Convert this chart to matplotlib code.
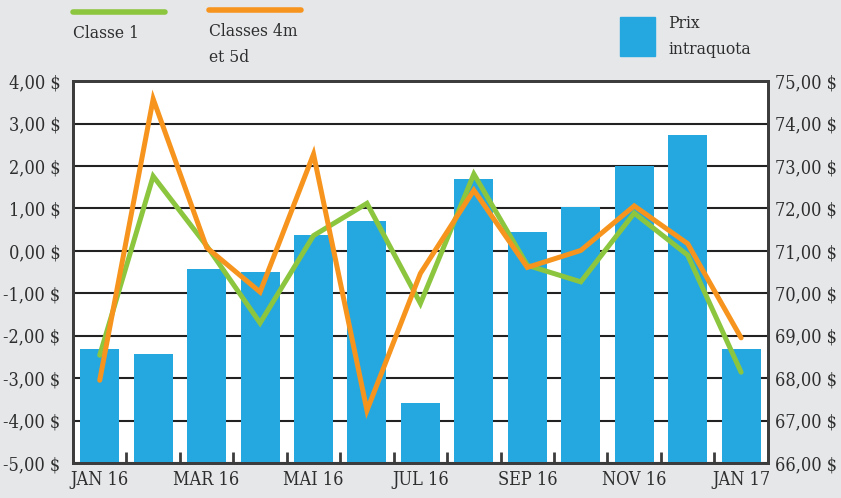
import matplotlib
matplotlib.use("Agg")
import matplotlib.pyplot as plt
from matplotlib.lines import Line2D
from matplotlib.patches import Rectangle
from matplotlib.ticker import FuncFormatter, FixedLocator

# data
months = ["JAN 16", "FEV 16", "MAR 16", "AVR 16", "MAI 16", "JUN 16", "JUL 16",
          "AOU 16", "SEP 16", "OCT 16", "NOV 16", "DEC 16", "JAN 17"]
prix_intraquota = [68.69, 68.56, 70.57, 70.50, 71.37, 71.70, 67.41,
                   72.69, 71.44, 72.03, 73.00, 73.73, 68.68]
classe_1 = [-2.46, 1.76, 0.12, -1.70, 0.36, 1.12, -1.24,
            1.81, -0.34, -0.73, 0.89, -0.10, -2.86]
classes_4m_5d = [-3.05, 3.58, 0.08, -0.97, 2.28, -3.76, -0.53,
                 1.43, -0.39, 0.01, 1.06, 0.17, -2.05]

BG = "#e6e7e9"
BLUE = "#25a8e0"
GREEN = "#8cc63f"
ORANGE = "#f7941d"
TXT = "#2e2e2e"
SPINE = "#3c3c3c"

plt.rcParams["font.family"] = ["DejaVu Serif"]
plt.rcParams["font.stretch"] = "condensed"

fig = plt.figure(figsize=(8.41, 4.98), dpi=100, facecolor=BG)
ax = fig.add_axes([0.0868, 0.0703, 0.913 - 0.0868, 0.837 - 0.0703])
ax2 = ax.twinx()

x = list(range(len(months)))

# bars on the right-hand scale
ax2.bar(x, [v - 66 for v in prix_intraquota], bottom=66, width=0.73,
        color=BLUE, zorder=2)
ax2.set_ylim(66, 75)
ax2.set_yticks(range(66, 76))
ax2.grid(axis="y", color="#222222", linewidth=1.5, zorder=0)
ax2.set_axisbelow(True)

# lines on the left-hand scale
ax.plot(x, classe_1, color=GREEN, linewidth=3.6, solid_capstyle="round",
        solid_joinstyle="miter", zorder=3)
ax.plot(x, classes_4m_5d, color=ORANGE, linewidth=3.6, solid_capstyle="round",
        solid_joinstyle="miter", zorder=3)
ax.set_ylim(-5, 4)
ax.set_yticks(range(-5, 5))
ax.set_xlim(-0.5, len(months) - 0.5)

# put lines above bars
ax.set_zorder(ax2.get_zorder() + 1)
ax.patch.set_visible(False)
ax2.patch.set_visible(True)
ax2.patch.set_facecolor("white")

fmt = FuncFormatter(lambda v, p: f"{v:.2f}".replace(".", ",") + " $")
ax.yaxis.set_major_formatter(fmt)
ax2.yaxis.set_major_formatter(fmt)

ax.set_xticks(x[::2])
ax.set_xticklabels(months[::2])
ax.xaxis.set_minor_locator(FixedLocator([i + 0.5 for i in x[:-1]]))
ax.tick_params(axis="x", which="major", length=0, pad=6, labelsize=13, labelcolor=TXT)
ax.tick_params(axis="x", which="minor", direction="in", length=8, width=2, color=SPINE)
ax.tick_params(axis="y", length=0, pad=9, labelsize=13, labelcolor=TXT)
ax2.tick_params(axis="y", length=0, pad=5, labelsize=13, labelcolor=TXT)

for a in (ax, ax2):
    for s in a.spines.values():
        s.set_color(SPINE)
        s.set_linewidth(2)

# legend drawn by hand at the top
fig.add_artist(Line2D([73 / 841, 165 / 841], [1 - 12.5 / 498] * 2, color=GREEN,
                      linewidth=4, solid_capstyle="round"))
fig.text(73 / 841, 1 - 33 / 498, "Classe 1", color=TXT, fontsize=12.5, va="center")
fig.add_artist(Line2D([209 / 841, 301 / 841], [1 - 10 / 498] * 2, color=ORANGE,
                      linewidth=4, solid_capstyle="round"))
fig.text(209 / 841, 1 - 31 / 498, "Classes 4m", color=TXT, fontsize=12.5, va="center")
fig.text(209 / 841, 1 - 57 / 498, "et 5d", color=TXT, fontsize=12.5, va="center")
fig.add_artist(Rectangle((620 / 841, 1 - 56 / 498), 35 / 841, 39 / 498,
                         transform=fig.transFigure, color=BLUE))
fig.text(668 / 841, 1 - 24 / 498, "Prix", color=TXT, fontsize=12.5, va="center")
fig.text(668 / 841, 1 - 49 / 498, "intraquota", color=TXT, fontsize=12.5, va="center")

fig.savefig("out.png", dpi=100, facecolor=BG)
